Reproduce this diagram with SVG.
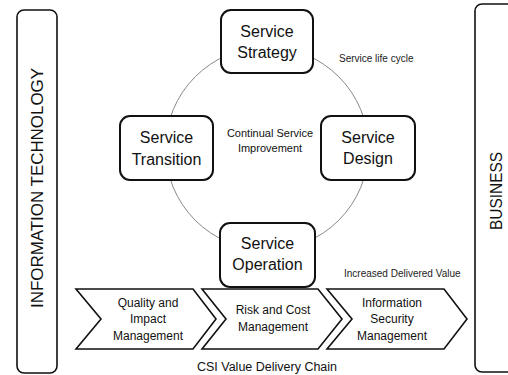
<svg xmlns="http://www.w3.org/2000/svg" width="508" height="375" viewBox="0 0 508 375">
<style>
.box{fill:#fff;stroke:#111;stroke-width:2}
.side{fill:#fff;stroke:#111;stroke-width:1.6}
.chev{fill:#fff;stroke:#111;stroke-width:1.6;stroke-linejoin:miter}
.big{font-family:"Liberation Sans",Arial,sans-serif;font-size:16px;fill:#111;text-anchor:middle}
.mid{font-family:"Liberation Sans",Arial,sans-serif;font-size:12px;fill:#111;text-anchor:middle}
.sm{font-family:"Liberation Sans",Arial,sans-serif;font-size:10px;fill:#222}
.vert{font-family:"Liberation Sans",Arial,sans-serif;font-size:16.5px;fill:#111;text-anchor:middle}
</style>
<rect width="508" height="375" fill="#fff"/>
<g id="connectors">
<circle cx="267" cy="148.5" r="101.5" fill="none" stroke="#888" stroke-width="1"/>
</g>
<g id="it">
<rect class="side" x="17" y="10" width="40" height="363" rx="7"/>
<text class="vert" transform="translate(42.5,188) rotate(-90)" textLength="240" lengthAdjust="spacingAndGlyphs">INFORMATION TECHNOLOGY</text>
</g>
<g id="business">
<rect class="side" x="475" y="4" width="60" height="368" rx="7"/>
<text class="vert" transform="translate(502,191) rotate(-90)" textLength="78" lengthAdjust="spacingAndGlyphs">BUSINESS</text>
</g>
<g id="strategy">
<rect class="box" x="221" y="10" width="92" height="63" rx="10"/>
<text class="big" x="267" y="37">Service</text>
<text class="big" x="267" y="58">Strategy</text>
</g>
<g id="transition">
<rect class="box" x="120" y="116" width="93" height="64" rx="10"/>
<text class="big" x="166.5" y="143">Service</text>
<text class="big" x="166.5" y="165">Transition</text>
</g>
<g id="design">
<rect class="box" x="321" y="116" width="94" height="64" rx="10"/>
<text class="big" x="368" y="143">Service</text>
<text class="big" x="368" y="164">Design</text>
</g>
<g id="operation">
<rect class="box" x="220" y="223" width="95" height="64" rx="10"/>
<text class="big" x="267.5" y="249">Service</text>
<text class="big" x="267.5" y="270">Operation</text>
</g>
<g id="csi">
<text class="mid" x="270" y="137" style="font-size:11px">Continual Service</text>
<text class="mid" x="270" y="152" style="font-size:11px">Improvement</text>
</g>
<g id="lifecycle">
<text class="sm" x="339" y="62">Service life cycle</text>
</g>
<g id="value">
<text class="sm" x="344" y="277">Increased Delivered Value</text>
</g>
<g id="chev1">
<polygon class="chev" points="76,289 193,289 216,319 193,349 76,349 101,319"/>
<text class="mid" x="148" y="307">Quality and</text>
<text class="mid" x="148" y="323">Impact</text>
<text class="mid" x="148" y="340">Management</text>
</g>
<g id="chev2">
<polygon class="chev" points="202,289 318,289 342,319 318,349 202,349 226,319"/>
<text class="mid" x="273" y="314">Risk and Cost</text>
<text class="mid" x="273" y="331">Management</text>
</g>
<g id="chev3">
<polygon class="chev" points="327,289 444,289 467,319 444,349 327,349 352,319"/>
<text class="mid" x="392" y="307">Information</text>
<text class="mid" x="392" y="323">Security</text>
<text class="mid" x="392" y="340">Management</text>
</g>
<g id="chain">
<text class="mid" x="267" y="371" style="font-size:12.5px">CSI Value Delivery Chain</text>
</g>
</svg>
